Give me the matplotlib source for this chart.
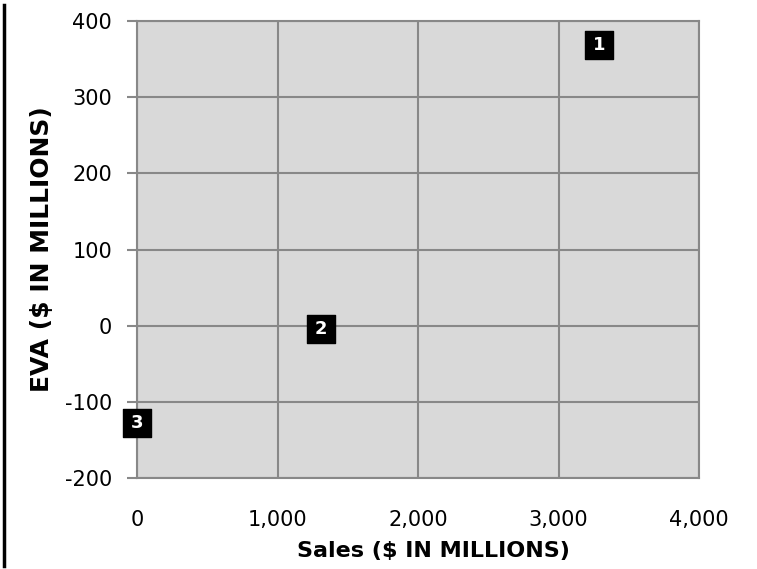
import matplotlib.pyplot as plt
from matplotlib.lines import Line2D
from matplotlib.ticker import FuncFormatter

# ventes et EVA des trois entreprises
labels = ["1", "2", "3"]
sales = [3290, 1310, 0]
eva = [369, -5, -128]

x_ticks = [0, 1000, 2000, 3000, 4000]
y_ticks = [-200, -100, 0, 100, 200, 300, 400]

plt.rcParams['axes.unicode_minus'] = False

fig = plt.figure(figsize=(7.57, 5.69), dpi=100)
ax = fig.add_axes([137 / 757, 1 - 478 / 569, (699 - 137) / 757, (478 - 21) / 569])
ax.set_facecolor("#d9d9d9")

ax.set_xlim(0, 4000)
ax.set_ylim(-200, 400)
ax.set_xticks(x_ticks)
ax.set_yticks(y_ticks)
ax.xaxis.set_major_formatter(FuncFormatter(lambda v, p: f"{int(v):,}"))
ax.grid(True, color="#888888", linewidth=1.5)
ax.set_axisbelow(True)
for s in ax.spines.values():
    s.set_color("#888888")
    s.set_linewidth(1.5)
ax.tick_params(axis="y", length=7, width=1.5, color="#888888", labelsize=15, pad=11)
ax.tick_params(axis="x", length=0, labelsize=15, pad=23)

ax.scatter(sales, eva, marker="s", s=380, color="black", zorder=3, clip_on=False)
for lab, x, y in zip(labels, sales, eva):
    ax.text(x, y, lab, color="white", fontsize=13, fontweight="bold",
            ha="center", va="center", zorder=4)

ax.set_xlabel("Sales ($ IN MILLIONS)", fontsize=16, fontweight="bold", labelpad=8)
ax.xaxis.label.set_x(0.528)
ax.set_ylabel("EVA ($ IN MILLIONS)", fontsize=18, fontweight="heavy", labelpad=8)

# trait noir a gauche
fig.add_artist(Line2D([3.5 / 757, 3.5 / 757], [1 - 5 / 569, 1 - 566 / 569],
                      transform=fig.transFigure, color="black", linewidth=2.5))

fig.savefig("out.png", dpi=100)
